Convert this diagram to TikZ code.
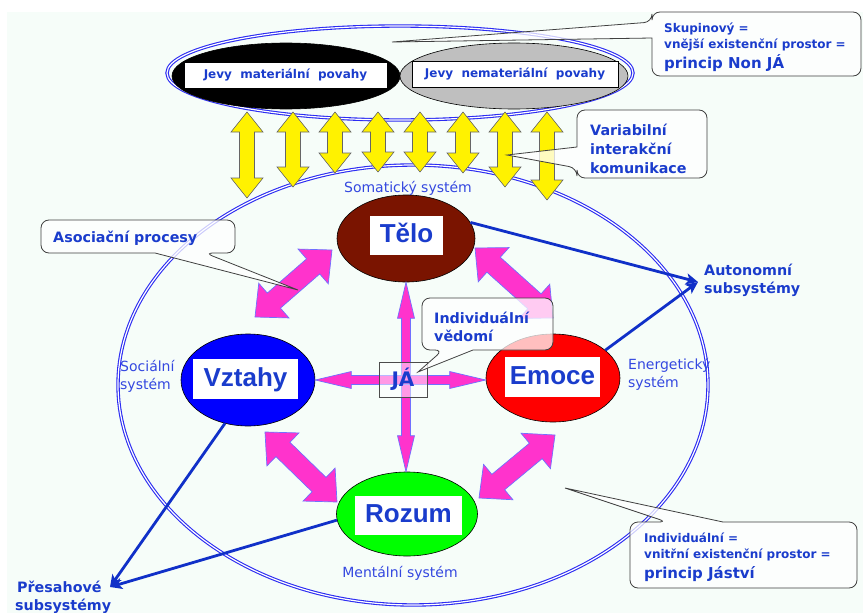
\documentclass[tikz,border=0pt]{standalone}
\usepackage{fontspec}
\setmainfont{DejaVu Sans}
\newfontfamily\arialf{Liberation Sans}
\usetikzlibrary{calc,arrows.meta,shapes.geometric}
\definecolor{bgc}{HTML}{F6FDF9}
\definecolor{lblue}{HTML}{3448E0}
\definecolor{dblue}{HTML}{1A3CCC}
\definecolor{linkblue}{HTML}{1030C8}
\definecolor{pinkf}{HTML}{FF33CC}
\definecolor{pinkedge}{HTML}{7070FF}
\definecolor{telocol}{HTML}{7A1400}
\definecolor{ringblue}{HTML}{2B2BF2}
% #1 style, #2 start, #3 end, #4 half shaft, #5 half head, #6 head length
\newcommand\dblarrow[6]{%
  \path[#1] let \p1=#2, \p2=#3, \n1={atan2(\y2-\y1,\x2-\x1)} in
    (\p1) -- ($(\p1)+(\n1:#6)+(\n1+90:#5)$) -- ($(\p1)+(\n1:#6)+(\n1+90:#4)$)
    -- ($(\p2)+(\n1+180:#6)+(\n1+90:#4)$) -- ($(\p2)+(\n1+180:#6)+(\n1+90:#5)$)
    -- (\p2) -- ($(\p2)+(\n1+180:#6)+(\n1-90:#5)$) -- ($(\p2)+(\n1+180:#6)+(\n1-90:#4)$)
    -- ($(\p1)+(\n1:#6)+(\n1-90:#4)$) -- ($(\p1)+(\n1:#6)+(\n1-90:#5)$) -- cycle;}
\begin{document}
\begin{tikzpicture}[x=1pt,y=-1pt,
  ring/.style={draw=ringblue,line width=1.1pt,double=white,double distance=1.2pt},
  ell/.style={ellipse,draw=black,line width=0.6pt,inner sep=0},
  lab/.style={fill=white,inner sep=0,text=dblue,font=\arialf\bfseries\fontsize{26}{30}\selectfont,text height=19pt,text depth=5pt},
  ybar/.style={fill=yellow,draw=black!60,line width=0.6pt},
  pbar/.style={fill=pinkf,draw=pinkedge,line width=0.7pt},
  cbox/.style={draw=black!75,line width=0.8pt,fill=white,fill opacity=0.75},
  bl/.style={inner sep=0,anchor=base west,text=dblue,font=\bfseries\fontsize{14.3}{17}\selectfont},
  sm/.style={inner sep=0,anchor=base west,text=dblue,font=\bfseries\fontsize{12}{14}\selectfont},
  bigl/.style={inner sep=0,anchor=base west,text=dblue,font=\bfseries\fontsize{15}{17}\selectfont},
  rg/.style={inner sep=0,anchor=base west,text=lblue,font=\fontsize{14}{17}\selectfont},
  link/.style={draw=linkblue,line width=2.8pt,-{Stealth[length=12pt,width=11pt,inset=3pt]}},
  topbox/.style={draw=black,line width=0.6pt,fill=white,minimum height=26pt,inner sep=0,text=dblue,font=\bfseries\fontsize{12}{14}\selectfont}
]
\useasboundingbox (0,0) rectangle (863,613);
\fill[white] (0,0) rectangle (863,613);
\fill[bgc] (7,12) rectangle (863,613);

% rings
\draw[ring] (413,385) ellipse [x radius=295pt, y radius=220pt];
\draw[ring] (400,73) ellipse [x radius=233pt, y radius=47pt];

% top ellipses
\node[ell,fill=black,minimum width=228pt,minimum height=66pt] (matell) at (286,76) {};
\node[ell,fill=black!25,minimum width=228pt,minimum height=66pt] (nemell) at (514,76) {};
\node[topbox,minimum width=203pt] (mat) at (285.5,75) {Jevy\ \ materiální\ \ povahy};
\node[topbox,minimum width=206pt] (nem) at (515,74) {Jevy\ \ nemateriální\ \ povahy};

% top right callout
\path[cbox] (652,50) [rounded corners=8pt] -- (652,76) -- (861,76) -- (861,12) -- (652,12) -- (652,22) [sharp corners] -- (392,42) -- (652,38) -- cycle;

% yellow arrows
\dblarrow{ybar}{(247,112)}{(247,198)}{7.5pt}{16pt}{20pt}
\dblarrow{ybar}{(293,112)}{(293,187)}{7.5pt}{16pt}{20pt}
\dblarrow{ybar}{(335,112)}{(335,173)}{7.5pt}{16pt}{20pt}
\dblarrow{ybar}{(378,112)}{(378,172)}{7.5pt}{16pt}{20pt}
\dblarrow{ybar}{(420,112)}{(420,172)}{7.5pt}{16pt}{20pt}
\dblarrow{ybar}{(463,112)}{(463,173)}{7.5pt}{16pt}{20pt}
\dblarrow{ybar}{(505,112)}{(505,187)}{7.5pt}{16pt}{20pt}
\dblarrow{ybar}{(547,112)}{(547,200)}{7.5pt}{16pt}{20pt}

% Variabilni callout
\path[cbox] (577,130) [rounded corners=8pt] -- (577,110) -- (707,110) -- (707,178) -- (577,178) -- (577,168) [sharp corners] -- (507,155) -- (577,147) -- cycle;

% main ellipses
\node[ell,fill=telocol,minimum width=138pt,minimum height=87pt] (telo) at (406,238.5) {};
\node[ell,fill=blue,minimum width=134pt,minimum height=92pt] (vztahy) at (248,380) {};
\node[ell,fill=red,minimum width=134pt,minimum height=88pt] (emoce) at (553,378) {};
\node[ell,fill=green,minimum width=141pt,minimum height=84pt] (rozum) at (407,514) {};
\node[lab,minimum width=73pt,minimum height=39pt] (telol) at (406.5,235.5) {Tělo};
\node[lab,minimum width=105pt,minimum height=40pt] (vztahyl) at (245.5,379) {Vztahy};
\node[lab,minimum width=95pt,minimum height=40pt] (emocel) at (552.5,377) {Emoce};
\node[lab,minimum width=107pt,minimum height=39pt] (rozuml) at (408.5,515.5) {Rozum};

% big pink arrows
\coordinate (a1) at (332,250); \coordinate (b1) at (255,317);
\coordinate (a2) at (475,248); \coordinate (b2) at (553,318);
\coordinate (a3) at (265,432); \coordinate (b3) at (337,502);
\coordinate (a4) at (555,435); \coordinate (b4) at (479,498);
\dblarrow{pbar}{(a1)}{(b1)}{10pt}{23pt}{25pt}
\dblarrow{pbar}{(a2)}{(b2)}{10pt}{23pt}{25pt}
\dblarrow{pbar}{(a3)}{(b3)}{10pt}{23pt}{25pt}
\dblarrow{pbar}{(a4)}{(b4)}{10pt}{23pt}{25pt}

% thin pink arrows
\dblarrow{pbar}{(telo.south)}{(telo.south |- rozum.north)}{4.5pt}{8.5pt}{36pt}
\dblarrow{pbar}{(vztahy.east)}{(emoce.west |- vztahy.east)}{4.5pt}{8.5pt}{36pt}

% JA box
\node[draw=black!70,line width=0.7pt,fill=white,fill opacity=0.5,text opacity=1,minimum width=48pt,minimum height=35pt,inner sep=0,text=dblue,font=\bfseries\fontsize{20}{22}\selectfont] (ja) at (403,379.5) {JÁ};

% callouts
\path[cbox] (100,253) [rounded corners=8pt] -- (41,253) -- (41,220) -- (235,220) -- (235,253) -- (205,253) [sharp corners] -- (298,290) -- (155,253) -- cycle;
\path[cbox] (500,350) [rounded corners=8pt] -- (553,350) -- (553,298) -- (422,298) -- (422,350) -- (443,350) [sharp corners] -- (418,372) -- (473,350) -- cycle;
\path[cbox] (800,522) [rounded corners=8pt] -- (857,522) -- (857,588) -- (630,588) -- (630,522) -- (667,522) [sharp corners] -- (565,488) -- (723,522) -- cycle;

% links
\coordinate (autotip) at (698,282);
\coordinate (pretip) at (110,587);
\draw[link] (telo.14.5) -- (autotip);
\draw[link] (emoce.28) -- (autotip);
\draw[link] (vztahy.-118) -- (pretip);
\draw[link] (rozum.185) -- (pretip);

% texts
\node[sm] (sk1) at (664,32) {Skupinový =};
\node[sm] (sk2) at (664,48) {vnější existenční prostor =};
\node[bigl] (sk3) at (664,68) {princip Non JÁ};
\node[bl] (var1) at (590,135) {Variabilní};
\node[bl] (var2) at (590,154) {interakční};
\node[bl] (var3) at (590,173) {komunikace};
\node[bl] (asoc) at (53,242) {Asociační procesy};
\node[bl] (ind1) at (434,323) {Individuální};
\node[bl] (ind2) at (434,341) {vědomí};
\node[bl] (aut1) at (704,275) {Autonomní};
\node[bl] (aut2) at (704,293) {subsystémy};
\node[bl] (pre1) at (17,592) {Přesahové};
\node[bl] (pre2) at (15,610) {subsystémy};
\node[sm] (in1) at (644,542) {Individuální =};
\node[sm] (in2) at (644,558) {vnitřní existenční prostor =};
\node[bigl] (in3) at (644,578) {princip Jáství};
\node[rg,anchor=base] (somat) at (408,192) {Somatický systém};
\node[rg,anchor=base] (mental) at (400,577) {Mentální systém};
\node[rg] (soc1) at (120,371) {Sociální};
\node[rg] (soc2) at (120,389) {systém};
\node[rg] (ene1) at (628,369) {Energetický};
\node[rg] (ene2) at (628,387) {systém};
\end{tikzpicture}
\end{document}
